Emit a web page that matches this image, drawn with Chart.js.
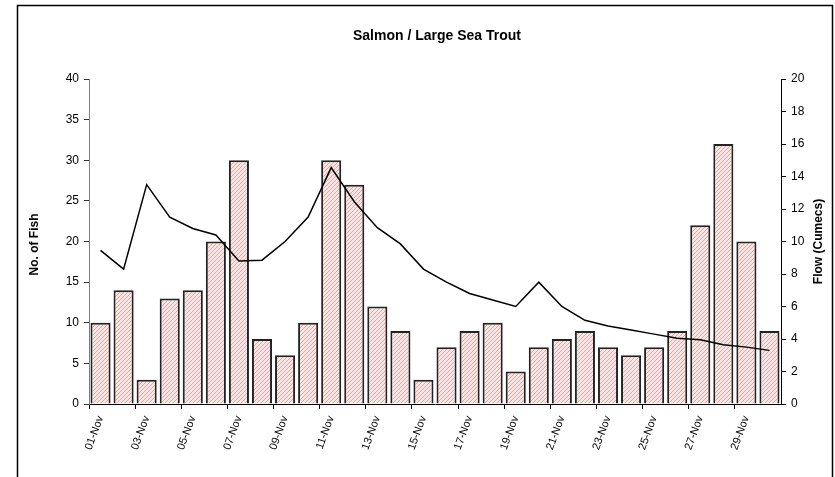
<!DOCTYPE html>
<html>
<head>
<meta charset="utf-8">
<script src="https://cdn.jsdelivr.net/npm/chart.js@4.4.1/dist/chart.umd.min.js"></script>
<style>
  html, body { margin: 0; padding: 0; background: #fff; }
  #wrap { width: 835px; height: 477px; position: relative; }
</style>
</head>
<body>
<div id="wrap"><canvas id="chart" width="835" height="477"></canvas></div>
<script>
// Dates along the x axis
const days = ["01-Nov","02-Nov","03-Nov","04-Nov","05-Nov","06-Nov","07-Nov","08-Nov","09-Nov","10-Nov",
  "11-Nov","12-Nov","13-Nov","14-Nov","15-Nov","16-Nov","17-Nov","18-Nov","19-Nov","20-Nov",
  "21-Nov","22-Nov","23-Nov","24-Nov","25-Nov","26-Nov","27-Nov","28-Nov","29-Nov","30-Nov"];

// No. of fish (bars, left axis)
const fish = [10, 14, 3, 13, 14, 20, 30, 8, 6, 10, 30, 27, 12, 9, 3, 7, 9, 10, 4, 7, 8, 9, 7, 6, 7, 9, 22, 32, 20, 9];

// Flow in cumecs (line, right axis)
const flow = [9.45, 8.3, 13.5, 11.5, 10.8, 10.4, 8.8, 8.85, 10.0, 11.5, 14.55, 12.45, 10.85, 9.85, 8.3,
  7.5, 6.8, 6.4, 6.0, 7.5, 6.0, 5.15, 4.8, 4.55, 4.3, 4.05, 3.95, 3.65, 3.5, 3.3];

const title = "Salmon / Large Sea Trout";
const leftTitle = "No. of Fish";
const rightTitle = "Flow (Cumecs)";

const FONT = "'Liberation Sans', Arial, sans-serif";

const canvas = document.getElementById("chart");

// red diagonal hatch like the excel fill
function hatch(mainCtx) {
  const c = document.createElement("canvas");
  c.width = 4; c.height = 4;
  const g = c.getContext("2d");
  g.fillStyle = "#fde3e3";
  g.fillRect(0, 0, 4, 4);
  g.fillStyle = "#f49e9e";
  // one-pixel diagonal steps, going up to the right
  for (let i = 0; i < 4; i++) g.fillRect(i, 3 - i, 1, 1);
  return mainCtx.createPattern(c, "repeat");
}

// title, axis titles and outer frame
const decor = {
  id: "decor",
  afterDraw(chart) {
    const ctx = chart.ctx;
    const a = chart.chartArea;
    ctx.save();
    ctx.strokeStyle = "#000";
    ctx.lineWidth = 1.5;
    ctx.strokeRect(17.5, 5.5, 815, 600);

    ctx.fillStyle = "#000";
    ctx.textAlign = "center";
    ctx.textBaseline = "alphabetic";
    ctx.font = "bold 14px " + FONT;
    ctx.fillText(title, 437, 40);

    ctx.font = "bold 12px " + FONT;
    ctx.textBaseline = "middle";
    const midY = (a.top + a.bottom) / 2;
    ctx.translate(35, midY + 3);
    ctx.rotate(-Math.PI / 2);
    ctx.fillText(leftTitle, 0, 0);
    ctx.setTransform(1, 0, 0, 1, 0, 0);
    ctx.translate(819, midY);
    ctx.rotate(-Math.PI / 2);
    ctx.fillText(rightTitle, 0, 0);
    ctx.restore();
  }
};

const tickFont = { family: FONT, size: 12 };

new Chart(canvas, {
  type: "bar",
  data: {
    labels: days,
    datasets: [
      {
        type: "line",
        label: "Flow",
        data: flow,
        yAxisID: "y1",
        borderColor: "#000",
        borderWidth: 1.5,
        pointRadius: 0,
        tension: 0,
        order: 0
      },
      {
        type: "bar",
        label: "Fish",
        data: fish,
        yAxisID: "y",
        backgroundColor: hatch(canvas.getContext("2d")),
        borderColor: "#222",
        borderWidth: 2,
        barPercentage: 0.87,
        categoryPercentage: 1,
        order: 1
      }
    ]
  },
  options: {
    responsive: false,
    animation: false,
    layout: { padding: { top: 79, left: 0, right: 0, bottom: 0 } },
    plugins: {
      legend: { display: false },
      tooltip: { enabled: false },
      title: { display: false }
    },
    scales: {
      x: {
        offset: true,
        grid: {
          offset: true,
          drawOnChartArea: false,
          tickLength: 5,
          color: ctx => ctx.index % 2 === 0 ? "#000" : "rgba(0,0,0,0)"
        },
        border: { color: "#000", width: 1 },
        ticks: {
          autoSkip: false,
          minRotation: 70,
          maxRotation: 70,
          padding: 5,
          color: "#000",
          font: { family: FONT, size: 11 },
          callback: function (v, i) { return i % 2 === 0 ? this.getLabelForValue(v) : ""; }
        },
        afterFit: s => { s.height = 73; }
      },
      y: {
        position: "left",
        min: 0, max: 40,
        grid: { drawOnChartArea: false, tickLength: 5, color: "#333" },
        border: { color: "#808080", width: 1 },
        ticks: { stepSize: 5, padding: 5, color: "#000", font: tickFont },
        afterFit: s => { s.width = 89; }
      },
      y1: {
        position: "right",
        min: 0, max: 20,
        grid: { drawOnChartArea: false, tickLength: 5, color: "#000" },
        border: { color: "#000", width: 1 },
        ticks: { stepSize: 2, padding: 5, color: "#000", font: tickFont },
        afterFit: s => { s.width = 54; }
      }
    }
  },
  plugins: [decor]
});
</script>
</body>
</html>
